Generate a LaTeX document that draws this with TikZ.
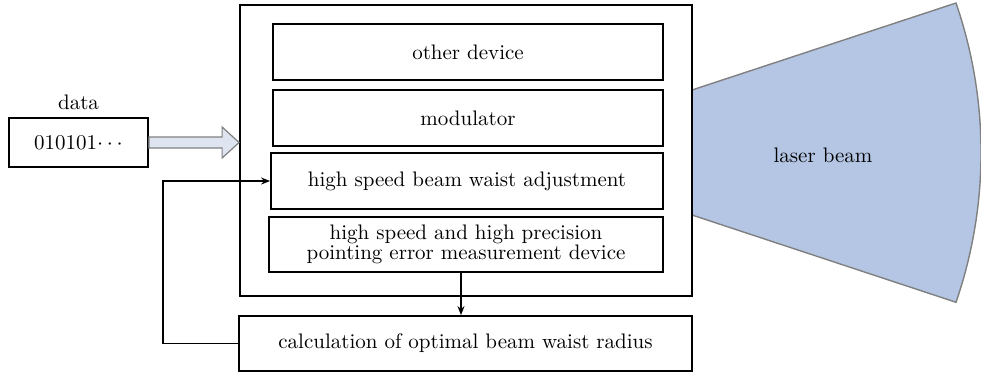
\documentclass[tikz,border=0pt]{standalone}
\usepackage{xcolor}
\usepackage{tikz}
\usetikzlibrary{arrows.meta,positioning,calc}
\definecolor{beamblue}{RGB}{180,198,228}
\definecolor{arrowfill}{RGB}{222,229,240}
\begin{document}
\begin{tikzpicture}[
  x=0.5pt, y=-0.5pt,
  every node/.style={font=\fontsize{10.5}{12}\selectfont},
  box/.style={draw, line width=0.9pt, inner sep=2pt, align=center,
              minimum width=195pt, minimum height=28pt},
  arr/.style={-{Stealth[length=4.5pt,width=3.5pt]}, line width=0.7pt},
  hollow/.style={draw=gray, fill=arrowfill, line width=0.6pt, line join=miter}
]
\useasboundingbox (0,0) rectangle (981,377);

% laser beam leaving the transmitter
\draw[draw=gray, fill=beamblue, line width=0.7pt]
  (692,90) -- (956,3) arc[start angle=19, end angle=-19, radius=229.8pt]
  -- (692,215) -- cycle;
\node (lb) at (823,155) {laser beam};

\node[box, minimum width=226pt, minimum height=145.5pt] (sys) at (466,150.5) {};
\node[box] (dev) at (468,52) {other device};
\node[box] (mod) at (468,118) {modulator};
\node[box, minimum width=196pt] (bwa) at (467,181) {high speed beam waist adjustment};
\node[box, minimum width=197pt, minimum height=27.5pt] (ped) at (466,244.5)
  {high speed and high precision\\[-2pt]pointing error measurement device};
\node[box, minimum width=226.5pt, minimum height=27.5pt] (calc) at (465.5,343.5)
  {calculation of optimal beam waist radius};

\node[box, minimum width=69.5pt, minimum height=24.5pt] (dat) at (78.5,142.5) {010101$\cdots$};
\node[above=0pt of dat] (lbl) {data};

% data into the transmitter
\draw[hollow] ($(dat.east)+(0,-5.5)$) -- ($(dat.east -| sys.west)+(-17,-5.5)$)
  -- ($(dat.east -| sys.west)+(-17,-15.5)$) -- (dat.east -| sys.west)
  -- ($(dat.east -| sys.west)+(-17,15.5)$) -- ($(dat.east -| sys.west)+(-17,5.5)$)
  -- ($(dat.east)+(0,5.5)$) -- cycle;

\draw[arr] ([xshift=-2.5pt]ped.south) -- ([xshift=-2.5pt]ped.south |- calc.north);
\draw[arr] (calc.west) -- ++(-75,0) |- (bwa.west);
\end{tikzpicture}
\end{document}
